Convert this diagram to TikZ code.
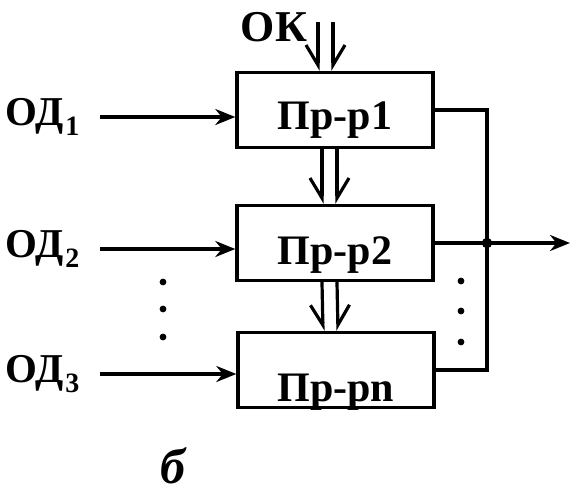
\documentclass[tikz,border=0pt]{standalone}
\usepackage{fontspec}
\setmainfont{Liberation Serif}
\usetikzlibrary{arrows.meta, positioning}

\tikzset{
  blk/.style={draw, line width=1.7pt, minimum width=98pt, minimum height=37.5pt,
              inner sep=0pt, text depth=0pt, text height=#1,
              font=\fontsize{21}{23}\selectfont\bfseries},
  blk/.default=19pt,
  wire/.style={line width=1.6pt},
  inarr/.style={wire, -{Stealth[length=10pt, width=8pt]}},
  barbL/.style={wire, -{Straight Barb[right, length=10pt, width=12pt]}},
  barbR/.style={wire, -{Straight Barb[left, length=10pt, width=12pt]}},
  lbl/.style={font=\fontsize{20.5}{22}\selectfont\bfseries, inner sep=0pt},
}
\newcommand{\odsub}[1]{\kern1pt\raisebox{-5pt}{\fontsize{14}{14}\selectfont #1}}

\begin{document}
\begin{tikzpicture}[x=0.5pt, y=-0.5pt]
  \useasboundingbox (0,0) rectangle (570,494);

  % register chain
  \node[blk=19pt] (box1) at (335,110) {Пр-р1};
  \node[blk=21pt] (box2) at (335,243) {Пр-р2};
  \node[blk=31pt] (box3) at (336,370) {Пр-рn};

  % data inputs
  \foreach \i/\y in {1/117, 2/249, 3/374} {
    \node[lbl, anchor=west] (od\i) at (5,\y) {ОД\odsub{\i}};
    \draw[inarr] ([xshift=10pt]od\i.east) -- (od\i.east -| box\i.west);
  }

  % control word
  \node[lbl, font=\fontsize{22}{24}\selectfont\bfseries] (ok) at (274,27) {ОК};
  \coordinate (okl) at (318,22);
  \coordinate (okr) at (333,22);
  \draw[barbL] (okl) -- (okl |- box1.north);
  \draw[barbR] (okr) -- (okr |- box1.north);

  % shift between registers
  \foreach \a/\b in {box1/box2, box2/box3} {
    \draw[barbL] ([xshift=-6.5pt]\a.south) -- ([xshift=-6.5pt]\b.north);
    \draw[barbR] ([xshift=1pt]\a.south) -- ([xshift=1pt]\b.north);
  }

  % output bus
  \coordinate (jn) at (487,243);
  \coordinate (out) at (570,243);
  \draw[wire] (box1.east) -| (jn) |- (box3.east);
  \draw[inarr] (box2.east) -- (out);
  \fill (jn) circle (2.6pt);

  % ellipsis dots
  \foreach \y in {282,309,337} \fill (163,\y) circle (1.7pt);
  \foreach \y in {281,311,342} \fill (461,\y) circle (1.7pt);

  \node[inner sep=0pt, font=\fontsize{25}{27}\selectfont\bfseries\itshape] (cap) at (173,466) {б};
\end{tikzpicture}
\end{document}
